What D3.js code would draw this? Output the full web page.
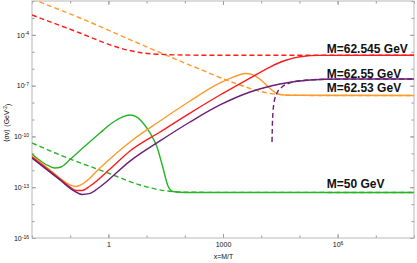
<!DOCTYPE html>
<html>
<head>
<meta charset="utf-8">
<script src="https://cdn.jsdelivr.net/npm/d3@7"></script>
<style>
  body { margin: 0; background: #fff; }
  svg text { font-family: "Liberation Sans", Arial, sans-serif; }
</style>
</head>
<body>
<svg id="chart" width="417" height="263"></svg>
<script>
// x = M/T, y = <sigma v> (GeV^-2)
var greenSolid = [[0.01, 9.2e-12], [0.0183, 3.1e-12], [0.0296, 1.68e-12], [0.04, 1.37e-12], [0.0574, 1.57e-12],
    [0.099, 4.35e-12], [0.244, 2.7e-11], [0.602, 1.6e-10], [1.24, 6.2e-10], [2.27, 1.4e-9], [3.67, 1.85e-9],
    [5.6, 1.4e-9], [8.05, 6.2e-10], [12.3, 1.6e-10], [18.7, 2.4e-11], [26.9, 1.37e-12], [36.3, 1.18e-13],
    [49, 5.6e-14], [101, 4.9e-14], [1e8, 4.9e-14]];
var greenDashed = [[0.01, 4.1e-11], [0.1, 4.6e-12], [0.98, 6.9e-13], [6.7, 1.36e-13], [30, 6.2e-14],
    [137, 5.0e-14], [1e8, 4.9e-14]];
var orangeSolid = [[0.01, 7.0e-12], [0.0296, 1.04e-12], [0.061, 2.7e-13], [0.099, 1.36e-13], [0.142, 1.1e-13],
    [0.23, 1.78e-13], [0.6, 1.37e-12], [3.67, 4.7e-11], [22.4, 8.2e-10], [137, 1.24e-8], [834, 1.44e-7],
    [2060, 3.5e-7], [3770, 5.2e-7], [6100, 4.3e-7], [10500, 1.9e-7], [17000, 6.8e-8], [26000, 3.4e-8],
    [50000, 2.7e-8], [1e8, 2.6e-8]];
var orangeDashed = [[0.01, 1.31e-2], [0.181, 9.9e-4], [6.7, 2.9e-5], [208, 1.1e-6], [2790, 1.09e-7],
    [11100, 4.2e-8], [31000, 2.96e-8], [104000, 2.65e-8], [1e8, 2.6e-8]];
var redSolid = [[0.01, 6.1e-12], [0.04, 5.3e-13], [0.0875, 1.27e-13], [0.142, 6.4e-14], [0.204, 6.4e-14],
    [0.33, 1.18e-13], [1.1, 1.19e-12], [3.67, 1.38e-11], [22.4, 1.83e-10], [137, 2.4e-9], [834, 2.8e-8],
    [5090, 2.8e-7], [17000, 1.26e-6], [42000, 3.05e-6], [104000, 5.1e-6], [346000, 6.1e-6], [1e8, 6.2e-6]];
var redDashed = [[0.01, 1.49e-3], [0.054, 3.57e-4], [0.181, 1.29e-4], [0.6, 4.3e-5], [2.0, 1.67e-5],
    [6.7, 9.1e-6], [30, 6.9e-6], [250, 6.3e-6], [1e8, 6.2e-6]];
var purpleSolid = [[0.01, 5.3e-12], [0.054, 2.7e-13], [0.126, 6.0e-14], [0.204, 3.7e-14], [0.33, 4.3e-14],
    [0.6, 1.03e-13], [3.67, 3.5e-12], [22.4, 5.4e-11], [137, 7.1e-10], [834, 7.2e-9], [5090, 4.2e-8],
    [31000, 1.25e-7], [189000, 2.16e-7], [1.16e6, 2.47e-7], [1e8, 2.47e-7]];
var purpleDashed = [[19200, 4.7e-11], [19800, 9.4e-10], [21600, 9.4e-9], [25900, 3.7e-8], [35000, 8.3e-8],
    [56700, 1.44e-7], [140000, 2.07e-7], [632000, 2.4e-7], [1e8, 2.47e-7]];

var massLabels = ["M=62.545 GeV", "M=62.55 GeV", "M=62.53 GeV", "M=50 GeV"];
var xMajor = [1, 1e3, 1e6];
var yMajor = [1e-16, 1e-13, 1e-10, 1e-7, 1e-4];

var svg = d3.select('#chart');
var mLeft = 32, mRight = 414, mTop = 1, mBottom = 238;

var x = d3.scaleLog().domain([1e-2, 1e8]).range([mLeft, mRight]);
var y = d3.scaleLog().domain([1e-16, 1e-2]).range([mBottom, mTop]);

var xMinor = d3.range(-2, 9).map(function(e) { return Math.pow(10, e); });
var yMinor = d3.range(-16, -1).map(function(e) { return Math.pow(10, e); });

svg.append('defs').append('clipPath').attr('id', 'clip')
    .append('rect').attr('x', mLeft).attr('y', mTop).attr('width', mRight - mLeft).attr('height', mBottom - mTop);

var tickColor = '#9a9a9a';

function drawAxis(axis, tx, ty) {
    var g = svg.append('g').attr('transform', 'translate(' + tx + ',' + ty + ')').call(axis);
    g.select('.domain').remove();
    g.selectAll('.tick line').attr('stroke', tickColor);
    return g;
}

// minor ticks every decade, all four sides
drawAxis(d3.axisBottom(x).tickValues(xMinor).tickSize(-2.5).tickFormat(''), 0, mBottom);
drawAxis(d3.axisTop(x).tickValues(xMinor).tickSize(-2.5).tickFormat(''), 0, mTop);
drawAxis(d3.axisLeft(y).tickValues(yMinor).tickSize(-2.5).tickFormat(''), mLeft, 0);
drawAxis(d3.axisRight(y).tickValues(yMinor).tickSize(-2.5).tickFormat(''), mRight, 0);

// major ticks
var xb = drawAxis(d3.axisBottom(x).tickValues(xMajor).tickSize(-4).tickPadding(4).tickFormat(''), 0, mBottom);
drawAxis(d3.axisTop(x).tickValues(xMajor).tickSize(-4).tickFormat(''), 0, mTop);
var yl = drawAxis(d3.axisLeft(y).tickValues(yMajor).tickSize(-4).tickPadding(3).tickFormat(''), mLeft, 0);
drawAxis(d3.axisRight(y).tickValues(yMajor).tickSize(-4).tickFormat(''), mRight, 0);

function powerLabel(text, e) {
    text.append('tspan').text('10');
    text.append('tspan').attr('dy', '-0.45em').style('font-size', '5px').text(e);
}

xb.selectAll('.tick text').each(function(d) {
    var t = d3.select(this).attr('fill', '#111').style('font-size', '7px');
    var e = Math.round(Math.log10(d));
    if (e < 4) t.text(String(d));
    else powerLabel(t, e);
});

yl.selectAll('.tick text').each(function(d) {
    var t = d3.select(this).attr('fill', '#111').style('font-size', '7px');
    powerLabel(t, '-' + Math.abs(Math.round(Math.log10(d))));
});

// frame
svg.append('rect').attr('x', mLeft).attr('y', mTop).attr('width', mRight - mLeft).attr('height', mBottom - mTop)
    .attr('fill', 'none').attr('stroke', '#b8b8b8').attr('stroke-width', 1);

// curves
var line = d3.line()
    .x(function(d) { return x(d[0]); })
    .y(function(d) { return y(d[1]); })
    .curve(d3.curveMonotoneX);

var plot = svg.append('g').attr('clip-path', 'url(#clip)');

var green = '#26b426', orange = '#ff9a2a', red = '#ff1a1a', purple = '#6a1f78';

var curves = [
    {data: greenDashed, color: green, dash: true},
    {data: greenSolid, color: green},
    {data: orangeDashed, color: orange, dash: true},
    {data: redDashed, color: red, dash: true},
    {data: orangeSolid, color: orange},
    {data: redSolid, color: red},
    {data: purpleSolid, color: purple},
    {data: purpleDashed, color: purple, dash: true}
];

curves.forEach(function(c) {
    plot.append('path').datum(c.data)
        .attr('d', line)
        .attr('fill', 'none')
        .attr('stroke', c.color)
        .attr('stroke-width', 1.4)
        .attr('stroke-dasharray', c.dash ? '5,3' : null);
});

// curve labels
var labelY = [8.8e-6, 2.95e-7, 4.05e-8, 9.0e-14];
massLabels.forEach(function(s, i) {
    svg.append('text')
        .attr('x', x(5.2e5))
        .attr('y', y(labelY[i]))
        .style('font-size', '12px')
        .style('font-weight', 'bold')
        .attr('fill', '#111')
        .text(s);
});

// axis titles
svg.append('text')
    .attr('x', (mLeft + mRight) / 2 + 0.5)
    .attr('y', 259)
    .attr('text-anchor', 'middle')
    .style('font-size', '7px')
    .attr('fill', '#111')
    .text('x=M/T');

var yt = svg.append('text')
    .attr('transform', 'translate(9,123) rotate(-90)')
    .attr('text-anchor', 'middle')
    .style('font-size', '7px')
    .attr('fill', '#111');
yt.append('tspan').text('\u27E8\u03C3v\u27E9 (GeV');
yt.append('tspan').attr('dy', '-0.45em').style('font-size', '5px').text('-2');
yt.append('tspan').attr('dy', '0.45em').text(')');
</script>
</body>
</html>
